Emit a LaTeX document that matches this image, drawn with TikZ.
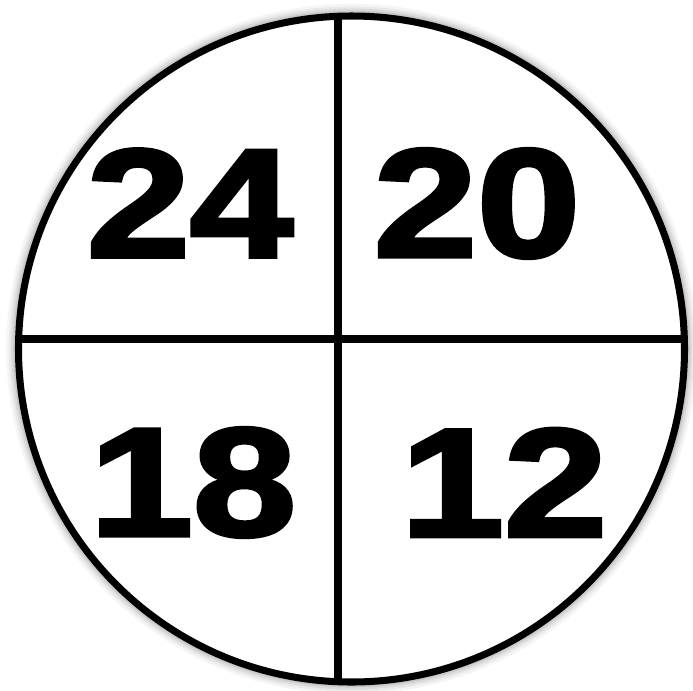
\documentclass[tikz,border=0pt]{standalone}
\usepackage{fontspec}
\newfontfamily\numfont{Liberation Sans Bold}[FakeBold=2.5]
\usetikzlibrary{positioning,calc}
\definecolor{dialInk}{HTML}{000000}
\definecolor{dialShade}{HTML}{5A5A5A}

\begin{document}
\begin{tikzpicture}[x=0.02cm,y=-0.02cm,
    rim/.style={draw=dialInk,line width=4pt},
    numlbl/.style={font=\numfont\fontsize{88}{88}\selectfont,inner sep=0pt,
                   text=dialInk,xscale=1.2}]
  \useasboundingbox (0,0) rectangle (693,690);
  % disc and the ends of the two dividers
  \coordinate (ctr) at (351.5,349);
  \coordinate (vtop) at (338,16.3);
  \coordinate (vbot) at (338,681.7);
  \coordinate (hleft) at (18.6,339);
  \coordinate (hright) at (684.3,339);
  % soft shadow
  \foreach \w/\o in {14/0.06,11/0.08,8.5/0.1,6/0.14}{
    \begin{scope}[shift={(-3,3)},draw=dialShade,line width=\w pt,opacity=\o]
      \draw (ctr) circle (333);
      \draw (vtop) -- (vbot);
      \draw (hleft) -- (hright);
    \end{scope}
  }
  \draw[rim,fill=white] (ctr) circle (333);
  \draw[rim] (vtop) -- (vbot);
  \draw[rim] (hleft) -- (hright);
  % quadrant numbers
  \node[numlbl] (tl) at (190,203) {24};
  \node[numlbl] (tr) at (477,203.5) {20};
  \node[numlbl] (bl) at (193,482.5) {18};
  \node[numlbl] (br) at (504,482.5) {12};
\end{tikzpicture}
\end{document}
